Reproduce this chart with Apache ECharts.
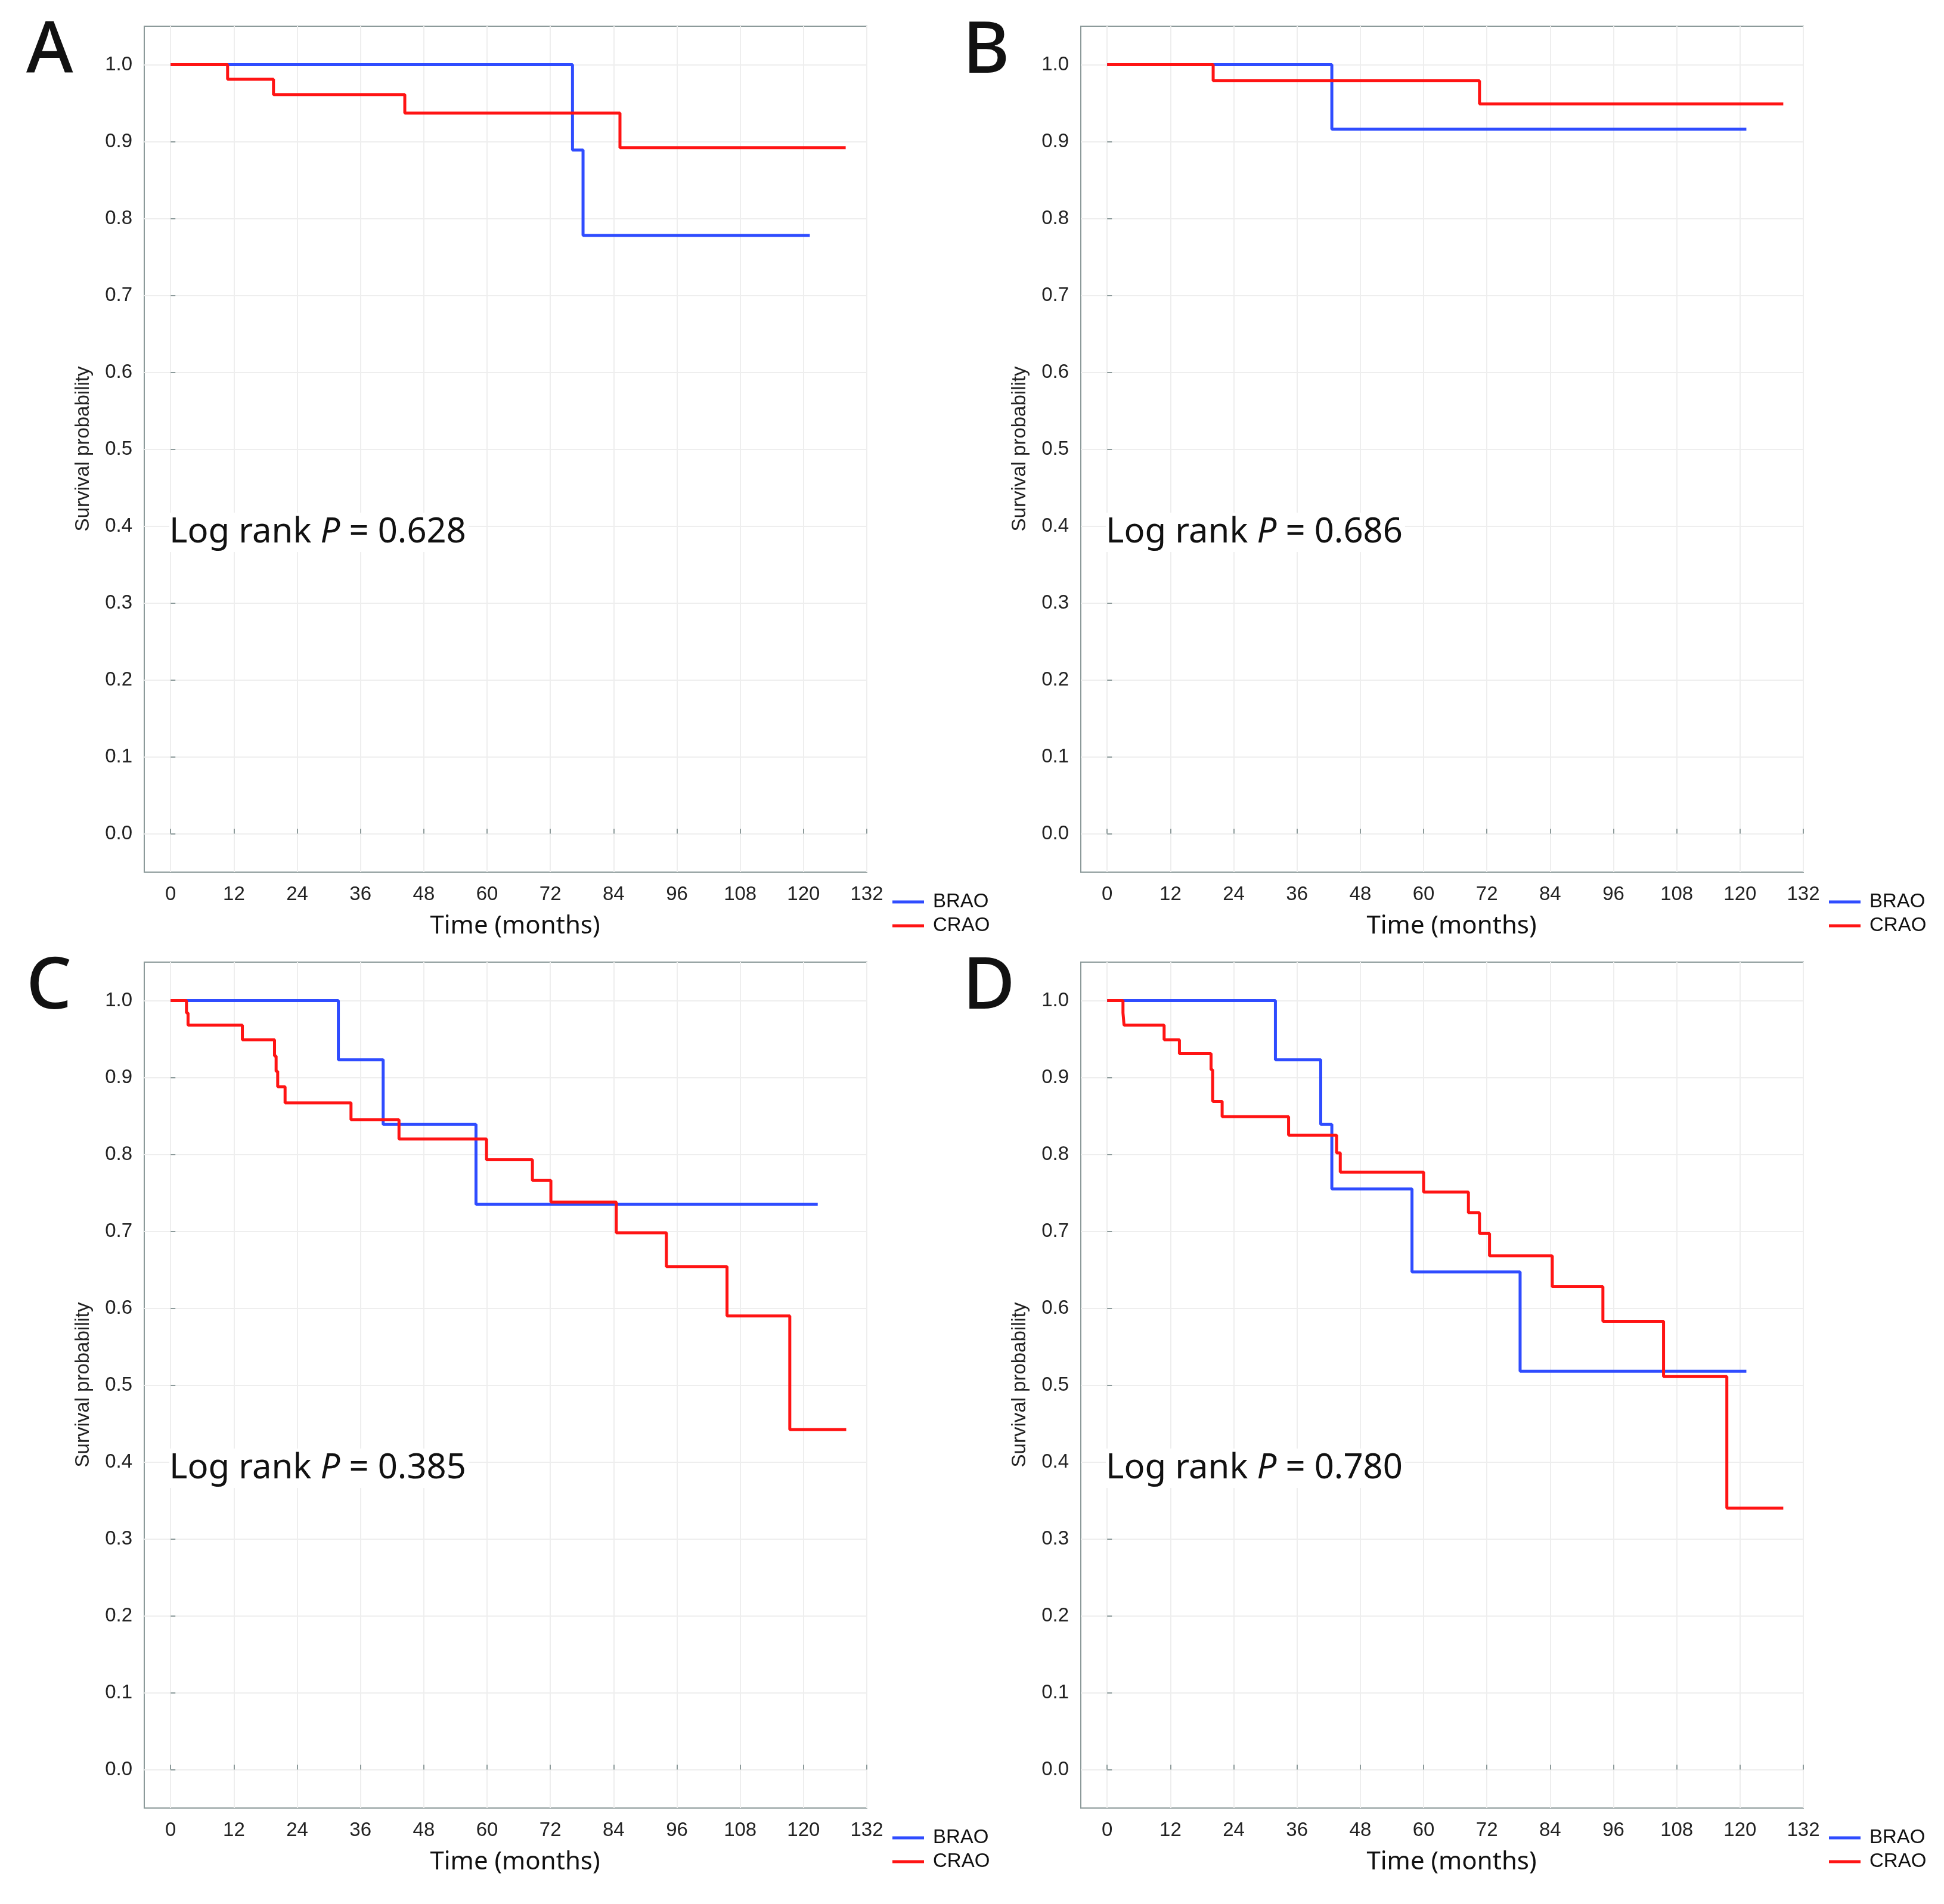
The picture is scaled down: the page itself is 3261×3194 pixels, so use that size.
<!DOCTYPE html>
<html>
<head>
<meta charset="utf-8">
<script src="https://cdn.jsdelivr.net/npm/echarts@6/dist/echarts.min.js"></script>
<style>
html,body{margin:0;padding:0;background:#fff;}
#chart{width:3261px;height:3194px;}
</style>
</head>
<body>
<div id="chart"></div>
<script>
// ---- data ----
const xTicks = [0, 12, 24, 36, 48, 60, 72, 84, 96, 108, 120, 132];
const yTicks = [0.0, 0.1, 0.2, 0.3, 0.4, 0.5, 0.6, 0.7, 0.8, 0.9, 1.0];
const seriesNames = ['BRAO', 'CRAO'];
const panelLetters = ['A', 'B', 'C', 'D'];
const pValues = ['0.628', '0.686', '0.385', '0.780'];

// [time (months), survival probability]
const A_BRAO = [[0, 1], [76.2, 0.889], [78.2, 0.778], [121.2, 0.778]];
const A_CRAO = [[0, 1], [10.8, 0.981], [19.5, 0.961], [44.4, 0.937], [85.2, 0.892], [128.0, 0.892]];

const B_BRAO = [[0, 1], [42.6, 0.916], [121.2, 0.916]];
const B_CRAO = [[0, 1], [20.1, 0.979], [70.6, 0.949], [128.2, 0.949]];

const C_BRAO = [[0, 1], [31.8, 0.923], [40.3, 0.839], [57.9, 0.735], [122.7, 0.735]];
const C_CRAO = [[0, 1], [3.0, 0.984], [3.3, 0.968], [13.6, 0.949], [19.7, 0.928], [20.0, 0.908],
  [20.3, 0.888], [21.7, 0.867], [34.2, 0.845], [43.3, 0.820], [59.9, 0.793], [68.6, 0.766],
  [72.1, 0.738], [84.5, 0.698], [94.0, 0.654], [105.5, 0.590], [117.4, 0.442], [128.1, 0.442]];

const D_BRAO = [[0, 1], [31.9, 0.923], [40.5, 0.839], [42.6, 0.755], [57.8, 0.647], [78.3, 0.518], [121.2, 0.518]];
const D_CRAO = [[0, 1], [3.0, 0.984], [3.2, 0.968], [10.8, 0.949], [13.7, 0.931], [19.7, 0.910],
  [20.0, 0.869], [21.8, 0.849], [34.4, 0.825], [43.5, 0.802], [44.2, 0.777], [60.0, 0.751],
  [68.5, 0.724], [70.6, 0.697], [72.5, 0.668], [84.4, 0.628], [94.0, 0.583], [105.5, 0.511],
  [117.5, 0.340], [128.2, 0.340]];

const panelData = [[A_BRAO, A_CRAO], [B_BRAO, B_CRAO], [C_BRAO, C_CRAO], [D_BRAO, D_CRAO]];

// ---- layout / style ----
const colors = ['#2f4cff', '#ff1414'];
const borderColor = '#8c9a9a';
const gridLineColor = '#eeeeee';
const tickFont = 'Liberation Sans, Arial, sans-serif';
const textFont = 'Noto Sans, Open Sans, sans-serif';
const offsets = [[0, 0], [1571, 0], [0, 1570], [1571, 1570]];
const plotLeft = 242, plotTop = 44, plotW = 1212, plotH = 1419;

const chart = echarts.init(document.getElementById('chart'), null, {renderer: 'canvas', width: 3261, height: 3194});

const grids = [], xAxes = [], yAxes = [], series = [], legends = [], graphics = [];

offsets.forEach(([dx, dy], i) => {
  grids.push({
    left: plotLeft + dx, top: plotTop + dy, width: plotW, height: plotH,
    show: true, borderColor: borderColor, borderWidth: 2, backgroundColor: 'transparent'
  });
  xAxes.push({
    type: 'value', gridIndex: i, min: -5, max: 132,
    axisLine: {show: false},
    axisTick: {show: true, inside: true, length: 8, customValues: xTicks,
      lineStyle: {color: borderColor, width: 2}},
    axisLabel: {customValues: xTicks, margin: 21, fontSize: 33, color: '#222', fontFamily: tickFont},
    splitLine: {show: true, lineStyle: {color: gridLineColor, width: 2}}
  });
  yAxes.push({
    type: 'value', gridIndex: i, min: -0.05, max: 1.05,
    axisLine: {show: false},
    axisTick: {show: true, inside: true, length: 8, customValues: yTicks,
      lineStyle: {color: borderColor, width: 2}},
    axisLabel: {customValues: yTicks, margin: 20, fontSize: 33, color: '#222', fontFamily: tickFont,
      formatter: v => v.toFixed(1)},
    splitLine: {show: true, lineStyle: {color: gridLineColor, width: 2}}
  });
  panelData[i].forEach((d, k) => {
    series.push({
      name: seriesNames[k], type: 'line', step: 'end', xAxisIndex: i, yAxisIndex: i,
      data: d, symbol: 'none', animation: false,
      lineStyle: {color: colors[k], width: 5},
      itemStyle: {color: colors[k]}
    });
  });
  legends.push({
    data: seriesNames, orient: 'vertical', left: 1492 + dx, top: 1488 + dy,
    icon: 'rect', itemWidth: 53, itemHeight: 5, itemGap: 0,
    textStyle: {fontSize: 33, lineHeight: 40, color: '#111', fontFamily: tickFont, padding: [0, 0, 0, 10]},
    selectedMode: false
  });
  // panel letter
  graphics.push({
    type: 'text', x: 44 + dx, y: 88 + dy,
    style: {text: panelLetters[i], fontSize: 120, fontWeight: 500, fontFamily: textFont,
      fill: '#111', align: 'left', verticalAlign: 'middle'}
  });
  // log rank text
  graphics.push({
    type: 'text', x: 284 + dx, y: 893 + dy, z: 10,
    style: {
      text: '{n|Log rank }{p|P}{n| = ' + pValues[i] + '}',
      rich: {
        n: {fontSize: 58, fontFamily: textFont, fill: '#111'},
        p: {fontSize: 58, fontFamily: textFont, fontStyle: 'italic', fill: '#111'}
      },
      backgroundColor: '#fff', padding: [4, 4, 4, 0],
      align: 'left', verticalAlign: 'middle'
    }
  });
  // x axis title
  graphics.push({
    type: 'text', x: 864 + dx, y: 1554 + dy,
    style: {text: 'Time (months)', fontSize: 42, fontFamily: textFont, fill: '#111',
      align: 'center', verticalAlign: 'middle'}
  });
  // y axis title
  graphics.push({
    type: 'text', x: 140 + dx, y: 753 + dy, rotation: Math.PI / 2,
    style: {text: 'Survival probability', fontSize: 33, fontFamily: tickFont, fill: '#222',
      align: 'center', verticalAlign: 'middle'}
  });
});

chart.setOption({
  backgroundColor: '#fff',
  animation: false,
  grid: grids, xAxis: xAxes, yAxis: yAxes, series: series, legend: legends,
  graphic: graphics
});
</script>
</body>
</html>
